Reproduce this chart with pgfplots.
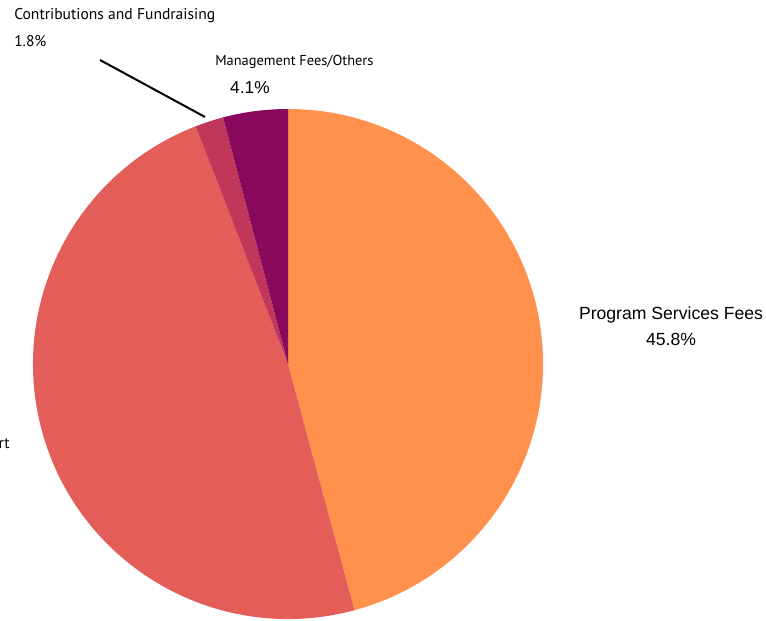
\documentclass[border=0pt]{standalone}
\usepackage{pgfplots}
\pgfplotsset{compat=1.18}
\usepackage{pgfplotstable}
\usepackage{fontspec}
\setmainfont{Liberation Sans}
\newfontfamily\cond{PT Sans}

\definecolor{progfee}{RGB}{255,145,77}
\definecolor{support}{RGB}{227,93,89}
\definecolor{contrib}{RGB}{193,55,90}
\definecolor{mgmt}{RGB}{137,10,92}

% revenue shares, clockwise from 12 o'clock
\pgfplotstableread{
share
45.8
48.3
1.8
4.1
}\shares

\pgfkeys{/pgf/number format/.cd, fixed, precision=1, fixed zerofill, assume math mode=true}

\begin{document}
\begin{tikzpicture}
\pgfplotstablegetelem{0}{share}\of\shares \let\sA\pgfplotsretval
\pgfplotstablegetelem{1}{share}\of\shares \let\sB\pgfplotsretval
\pgfplotstablegetelem{2}{share}\of\shares \let\sC\pgfplotsretval
\pgfplotstablegetelem{3}{share}\of\shares \let\sD\pgfplotsretval
\pgfmathsetmacro\aA{90}
\pgfmathsetmacro\aB{\aA-3.6*\sA}
\pgfmathsetmacro\aC{\aB-3.6*\sB}
\pgfmathsetmacro\aD{\aC-3.6*\sC}
\pgfmathsetmacro\aE{\aD-3.6*\sD}
\begin{axis}[
    at={(0pt,0pt)}, anchor=south west,
    x=0.75pt, y=0.75pt,
    xmin=0, xmax=766, ymin=0, ymax=620,
    hide axis, clip=false,
]
\fill[progfee] (axis cs:288,256) -- (axis cs:{288+255*cos(\aA)},{256+255*sin(\aA)})
    arc[start angle=\aA, end angle=\aB, radius=191.25pt] -- cycle;
\fill[support] (axis cs:288,256) -- (axis cs:{288+255*cos(\aB)},{256+255*sin(\aB)})
    arc[start angle=\aB, end angle=\aC, radius=191.25pt] -- cycle;
\fill[contrib] (axis cs:288,256) -- (axis cs:{288+255*cos(\aC)},{256+255*sin(\aC)})
    arc[start angle=\aC, end angle=\aD, radius=191.25pt] -- cycle;
\fill[mgmt] (axis cs:288,256) -- (axis cs:{288+255*cos(\aD)},{256+255*sin(\aD)})
    arc[start angle=\aD, end angle=\aE, radius=191.25pt] -- cycle;

\draw[black, line width=1.5pt] (axis cs:100,560) -- (axis cs:205,503);

\node[anchor=west, inner sep=0pt, font=\cond\fontsize{11.7pt}{13pt}\selectfont] at (axis cs:14,604) {Contributions and Fundraising};
\node[anchor=west, inner sep=0pt, font=\cond\fontsize{11.6pt}{13pt}\selectfont] at (axis cs:14,579) {\pgfmathprintnumber{\sC}\%};
\node[anchor=west, inner sep=0pt, font=\cond\fontsize{10.8pt}{12pt}\selectfont] at (axis cs:215,558) {Management Fees/Others};
\node[inner sep=0pt, font=\fontsize{13pt}{15pt}\selectfont] at (axis cs:250,532) {\pgfmathprintnumber{\sD}\%};
\node[inner sep=0pt, font=\fontsize{13.2pt}{15pt}\selectfont] at (axis cs:671,305) {Program Services Fees};
\node[inner sep=0pt, font=\fontsize{13.2pt}{15pt}\selectfont] at (axis cs:671,281) {\pgfmathprintnumber{\sA}\%};
\node[anchor=east, inner sep=0pt, font=\cond\fontsize{11.7pt}{13pt}\selectfont] at (axis cs:10,175) {Grants and Support};
\end{axis}
\pgfresetboundingbox
\useasboundingbox (0,0) rectangle (574.5pt,465pt);
\end{tikzpicture}
\end{document}
